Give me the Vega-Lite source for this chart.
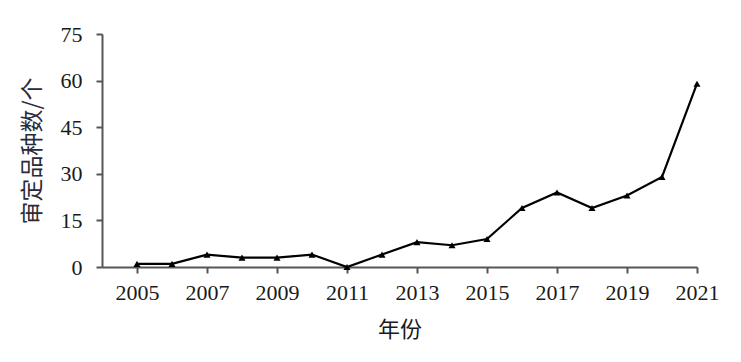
{
  "$schema": "https://vega.github.io/schema/vega-lite/v6.json",
  "width": 595,
  "height": 233,
  "autosize": "none",
  "padding": {"left": 102, "top": 34, "right": 44, "bottom": 95},
  "background": "white",
  "config": {"view": {"stroke": null}},
  "data": {"values": [
    {"year": 2005, "count": 1},
    {"year": 2006, "count": 1},
    {"year": 2007, "count": 4},
    {"year": 2008, "count": 3},
    {"year": 2009, "count": 3},
    {"year": 2010, "count": 4},
    {"year": 2011, "count": 0},
    {"year": 2012, "count": 4},
    {"year": 2013, "count": 8},
    {"year": 2014, "count": 7},
    {"year": 2015, "count": 9},
    {"year": 2016, "count": 19},
    {"year": 2017, "count": 24},
    {"year": 2018, "count": 19},
    {"year": 2019, "count": 23},
    {"year": 2020, "count": 29},
    {"year": 2021, "count": 59}
  ]},
  "encoding": {
    "x": {
      "field": "year", "type": "quantitative",
      "scale": {"domain": [2004, 2021], "nice": false, "zero": false},
      "axis": {
        "title": "年份",
        "values": [2005, 2007, 2009, 2011, 2013, 2015, 2017, 2019, 2021],
        "format": "d",
        "grid": false,
        "labelFlush": false,
        "labelOverlap": false,
        "domainColor": "#555555", "domainWidth": 2,
        "tickColor": "#555555", "tickWidth": 2, "tickSize": 6,
        "labelFont": "Liberation Serif", "labelFontSize": 22, "labelColor": "#1a1a1a",
        "labelPadding": 9,
        "titleFont": "Noto Sans CJK SC", "titleFontSize": 22, "titleFontWeight": "normal", "titleColor": "#1a1a1a",
        "titlePadding": 16
      }
    },
    "y": {
      "field": "count", "type": "quantitative",
      "scale": {"domain": [0, 75], "nice": false},
      "axis": {
        "title": "审定品种数/个",
        "values": [0, 15, 30, 45, 60, 75],
        "grid": false,
        "domainColor": "#555555", "domainWidth": 2,
        "tickColor": "#555555", "tickWidth": 2, "tickSize": 6,
        "labelFont": "Liberation Serif", "labelFontSize": 22, "labelColor": "#1a1a1a",
        "labelPadding": 14,
        "titleFont": "Noto Sans CJK SC", "titleFontSize": 23, "titleFontWeight": "normal", "titleColor": "#2a2a3a",
        "titlePadding": 16
      }
    }
  },
  "layer": [
    {"mark": {"type": "line", "color": "black", "strokeWidth": 2.2}},
    {"mark": {"type": "point", "shape": "triangle-up", "filled": true, "color": "black", "size": 50, "opacity": 1}}
  ]
}
